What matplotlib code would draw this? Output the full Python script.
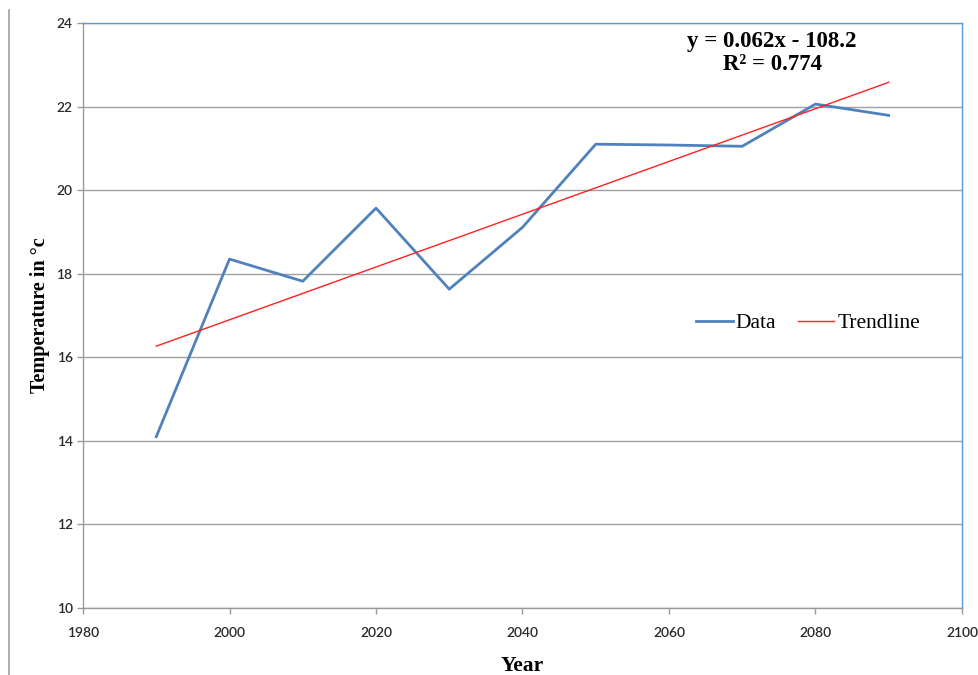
import numpy as np
import matplotlib
matplotlib.use("Agg")
import matplotlib.pyplot as plt
from matplotlib.lines import Line2D

# Yearly temperatures
years = [1990, 2000, 2010, 2020, 2030, 2040, 2050, 2060, 2070, 2080, 2090]
temps = [14.1, 18.35, 17.82, 19.57, 17.63, 19.11, 21.1, 21.08, 21.05, 22.06, 21.79]
x_ticks = [1980, 2000, 2020, 2040, 2060, 2080, 2100]
y_ticks = [10, 12, 14, 16, 18, 20, 22, 24]
equation_text = "y = 0.062x - 108.2\nR² = 0.774"

# Linear trend fitted to the data
slope, intercept = np.polyfit(years, temps, 1)
trend = np.polyval([slope, intercept], years)

fig = plt.figure(figsize=(9.79, 6.75), dpi=100)
ax = fig.add_axes([0.0848, 0.0993, 0.8978, 0.8666])

ax.plot(years, temps, color="#4f81bd", lw=2.0, label="Data")
ax.plot(years, trend, color="#ff2020", lw=1.0, label="Trendline")

ax.set_xlim(1980, 2100)
ax.set_ylim(10, 24)
ax.set_xticks(x_ticks)
ax.set_yticks(y_ticks)
ax.yaxis.grid(True, color="#a0a0a0", lw=1.0)
ax.set_axisbelow(True)

for side in ["left", "bottom"]:
    ax.spines[side].set_color("#9a9a9a")
    ax.spines[side].set_linewidth(1.0)
for side in ["top", "right"]:
    ax.spines[side].set_color("#5b9bd5")
    ax.spines[side].set_linewidth(1.0)

ax.tick_params(axis="both", colors="#9a9a9a", labelcolor="#2a2a2a",
               labelsize=10, length=4, width=1.0)
ax.tick_params(axis="x", pad=10)
for lab in ax.get_xticklabels() + ax.get_yticklabels():
    lab.set_fontfamily("Lato")
    lab.set_fontweight("semibold")

ax.set_xlabel("Year", family="Liberation Serif", fontweight="bold", fontsize=15.5, labelpad=12)
ax.set_ylabel("Temperature in °c", family="Liberation Serif", fontweight="bold",
              fontsize=14.5, labelpad=5)

ax.text(0.784, 0.948, equation_text, transform=ax.transAxes, ha="center", va="center",
        family="Liberation Serif", fontweight="bold", fontsize=16.5, linespacing=1.12)

ax.legend(loc="center", bbox_to_anchor=(0.825, 0.487), ncol=2, frameon=False,
          prop={"family": "Liberation Serif", "size": 15.5},
          handlelength=1.7, handletextpad=0.15, columnspacing=1.0)

# thin page margin line on the far left
fig.add_artist(Line2D([9 / 979, 9 / 979], [0, 1 - 10 / 675], transform=fig.transFigure,
                      color="#a0a0a0", lw=1.2))

fig.savefig("out.png", dpi=100)
